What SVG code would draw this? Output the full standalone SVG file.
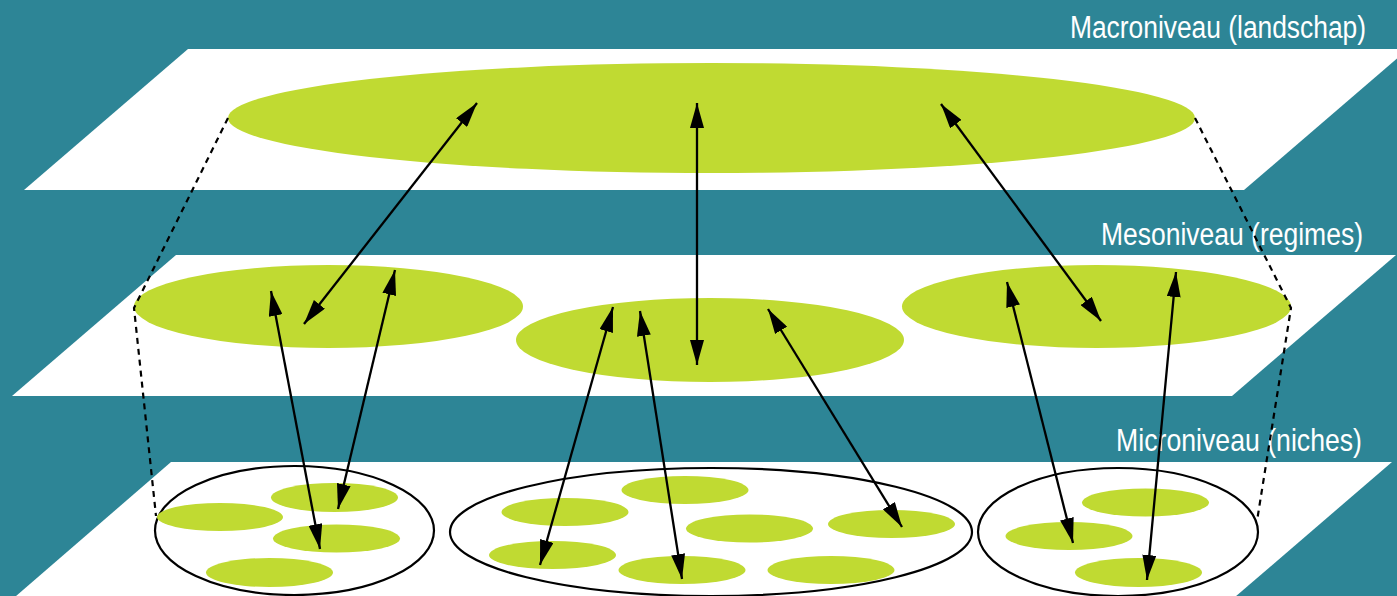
<svg xmlns="http://www.w3.org/2000/svg" width="1397" height="596" viewBox="0 0 1397 596">
  <defs>
    <style>
      .plane { fill: #ffffff; }
      .blob { fill: #c0da32; }
      .group { fill: none; stroke: #000; stroke-width: 2.2; }
      .arrow { fill: none; stroke: #000; stroke-width: 2.3; marker-start: url(#ah); marker-end: url(#ah); }
      .dash { fill: none; stroke: #000; stroke-width: 2.2; stroke-dasharray: 6 5; }
      .label { fill: #ffffff; font-family: "Liberation Sans", Arial, sans-serif; font-size: 31px; text-anchor: end; }
    </style>
    <marker id="ah" viewBox="0 0 25 14" refX="25" refY="7" markerWidth="25" markerHeight="14" markerUnits="userSpaceOnUse" orient="auto-start-reverse">
      <path d="M0,0 L25,7 L0,14 Z" fill="#000"/>
    </marker>
  </defs>

  <rect x="0" y="0" width="1397" height="596" fill="#2d8596"/>

  <g id="macro-level">
    <polygon class="plane" points="188,49 1408,49 1244,190 24,190"/>
    <text class="label" transform="translate(1366,38) scale(0.851,1)" x="0" y="0">Macroniveau (landschap)</text>
    <ellipse id="landscape" class="blob" cx="711.5" cy="118" rx="483.5" ry="55"/>
  </g>

  <g id="meso-level">
    <polygon class="plane" points="176,255 1396,255 1232,396 12,396"/>
    <text class="label" transform="translate(1363,245) scale(0.855,1)" x="0" y="0">Mesoniveau (regimes)</text>
    <ellipse id="regime-left" class="blob" cx="328.5" cy="306.5" rx="194.5" ry="41.5"/>
    <ellipse id="regime-center" class="blob" cx="710" cy="340" rx="194" ry="42"/>
    <ellipse id="regime-right" class="blob" cx="1096.5" cy="306.5" rx="194.5" ry="41.5"/>
  </g>

  <g id="micro-level">
    <polygon class="plane" points="171,462 1392,462 1228,603 8,603"/>
    <text class="label" transform="translate(1362,451) scale(0.86,1)" x="0" y="0">Microniveau (niches)</text>
  </g>

  <g id="niches-left">
    <ellipse class="group" cx="294.5" cy="530.5" rx="139.5" ry="64.5"/>
    <ellipse class="blob" cx="334.5" cy="497.5" rx="63.5" ry="14.5"/>
    <ellipse class="blob" cx="220" cy="517" rx="63" ry="14"/>
    <ellipse class="blob" cx="336.5" cy="538.5" rx="63.5" ry="14"/>
    <ellipse class="blob" cx="269.5" cy="572.5" rx="63.5" ry="14.5"/>
  </g>

  <g id="niches-center">
    <ellipse class="group" cx="711" cy="532" rx="261" ry="64"/>
    <ellipse class="blob" cx="685" cy="490" rx="63.5" ry="14"/>
    <ellipse class="blob" cx="565" cy="512" rx="63.5" ry="14"/>
    <ellipse class="blob" cx="749.5" cy="528.5" rx="63.5" ry="14"/>
    <ellipse class="blob" cx="891.5" cy="524" rx="63.5" ry="14"/>
    <ellipse class="blob" cx="552.5" cy="555" rx="63.5" ry="14"/>
    <ellipse class="blob" cx="682" cy="570" rx="63.5" ry="14"/>
    <ellipse class="blob" cx="831" cy="570" rx="63.5" ry="14"/>
  </g>

  <g id="niches-right">
    <ellipse class="group" cx="1118" cy="532" rx="140" ry="64"/>
    <ellipse class="blob" cx="1145.5" cy="502.5" rx="63.5" ry="14"/>
    <ellipse class="blob" cx="1069" cy="536" rx="63.5" ry="14"/>
    <ellipse class="blob" cx="1138.5" cy="572.5" rx="63.5" ry="14.5"/>
  </g>

  <g id="connectors">
    <polyline class="dash" points="228,118 134,308 156,516"/>
    <polyline class="dash" points="1195,118 1291,308 1257,521"/>

    <line class="arrow" x1="477" y1="103" x2="304" y2="324"/>
    <line class="arrow" x1="697" y1="103" x2="697" y2="365"/>
    <line class="arrow" x1="941" y1="104" x2="1101" y2="321"/>

    <line class="arrow" x1="271" y1="291" x2="320" y2="549"/>
    <line class="arrow" x1="395" y1="270" x2="338" y2="509"/>

    <line class="arrow" x1="613" y1="307" x2="540" y2="565"/>
    <line class="arrow" x1="640" y1="311" x2="682" y2="579"/>
    <line class="arrow" x1="768" y1="309" x2="902" y2="527"/>

    <line class="arrow" x1="1007" y1="282" x2="1073" y2="543"/>
    <line class="arrow" x1="1176" y1="272" x2="1147" y2="580"/>
  </g>
</svg>
